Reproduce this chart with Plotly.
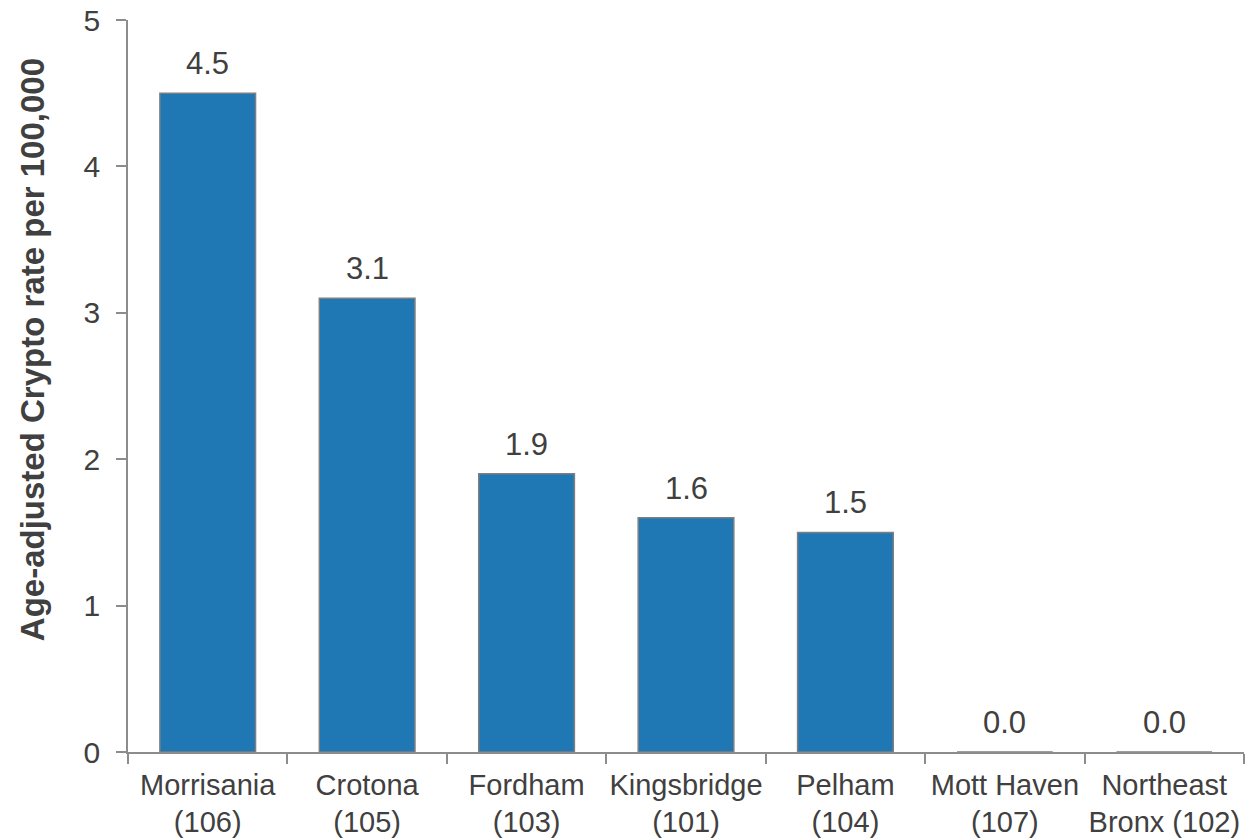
import plotly.graph_objects as go

categories = ["Morrisania<br>(106)", "Crotona<br>(105)", "Fordham<br>(103)", "Kingsbridge<br>(101)",
              "Pelham<br>(104)", "Mott Haven<br>(107)", "Northeast<br>Bronx (102)"]
values = [4.5, 3.1, 1.9, 1.6, 1.5, 0.0, 0.0]
labels = [f"{v:.1f}" for v in values]
y_title = "<b>Age-adjusted Crypto rate per 100,000</b>"

FONT = "Liberation Sans, Arial"
TXT = "#404040"

fig = go.Figure(go.Bar(
    x=categories, y=values,
    marker=dict(color="#1F77B4", line=dict(color="#7F7F7F", width=1.5)),
    width=0.6,
))

for c, v, t in zip(categories, values, labels):
    fig.add_annotation(x=c, y=v, text=t, showarrow=False, yanchor="bottom",
                       yshift=10, font=dict(size=31, color=TXT, family=FONT))

fig.add_annotation(xref="paper", yref="paper", x=-0.086, y=0.549, text=y_title,
                   textangle=-90, showarrow=False, xanchor="center", yanchor="middle",
                   font=dict(size=33, color=TXT, family=FONT))

fig.update_layout(
    width=1246, height=838,
    margin=dict(l=128, r=2, t=20, b=86),
    plot_bgcolor="white", paper_bgcolor="white",
    font=dict(family=FONT, color=TXT, size=20),
    showlegend=False,
    bargap=0.4,
)
fig.update_yaxes(
    range=[0, 5], dtick=1, showgrid=False, zeroline=False,
    showline=True, linecolor="#8C8C8C", linewidth=1.5,
    ticks="outside", ticklen=10, tickcolor="#8C8C8C", tickwidth=1.5,
    ticklabelstandoff=10,
    tickfont=dict(size=30, color=TXT),
    automargin=False,
)
fig.update_xaxes(
    showgrid=False, showline=True, linecolor="#8C8C8C", linewidth=1.5,
    ticks="outside", tickson="boundaries", ticklen=10, tickcolor="#8C8C8C", tickwidth=1.5,
    tickfont=dict(size=29, color=TXT),
    tickangle=0,
    ticklabelstandoff=6,
    automargin=False,
)

fig.write_html("out.html")
